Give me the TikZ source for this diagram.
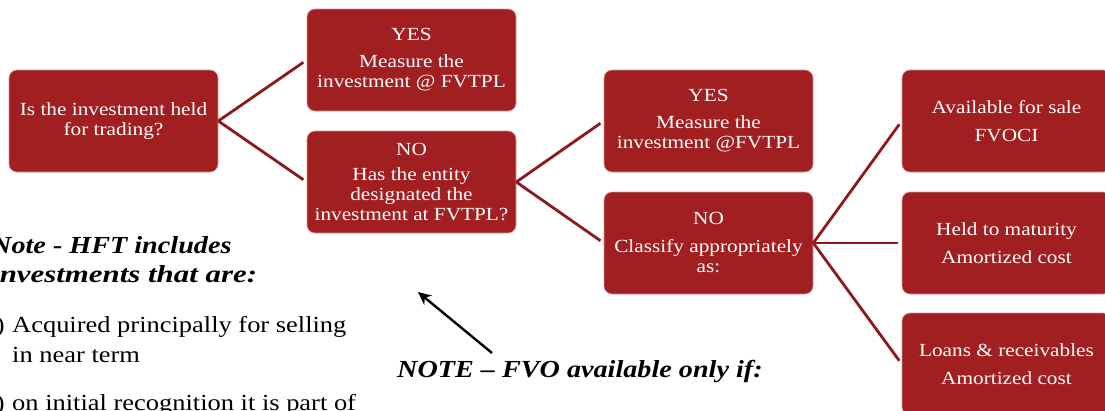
\documentclass[tikz,border=0pt]{standalone}
\usepackage{fontspec}
\setmainfont{Liberation Serif}[FakeStretch=1.15]
\usetikzlibrary{arrows.meta}
\definecolor{boxred}{RGB}{161,30,33}
\definecolor{boxedge}{RGB}{214,150,150}
\definecolor{linkred}{RGB}{140,26,27}
\begin{document}
\begin{tikzpicture}[x=1pt,y=-1pt,
  decision/.style={draw=boxedge, line width=0.6pt, fill=boxred, text=white,
    rounded corners=8pt, minimum width=209pt, minimum height=102pt,
    inner sep=2pt, align=center, font=\fontsize{18.5}{20}\selectfont},
  link/.style={draw=linkred, line width=2.8pt, shorten >=4pt},
  notehead/.style={font=\fontsize{24.5}{29}\selectfont\bfseries\itshape, align=left, inner sep=0pt},
  notebody/.style={font=\fontsize{23}{30}\selectfont, align=left, inner sep=0pt}]
\useasboundingbox (0,0) rectangle (1105,410);

% decision tree boxes
\node[decision] (hft) at (113.5,121) {Is the investment held\\for trading?};
\node[decision] (yes1) at (411.5,60) {YES\\[7pt]Measure the\\investment @ FVTPL};
\node[decision] (no1) at (411.5,182) {NO\\[5pt]Has the entity\\designated the\\investment at FVTPL?};
\node[decision] (yes2) at (708.5,121) {YES\\[7pt]Measure the\\investment @FVTPL};
\node[decision] (no2) at (708.5,243) {NO\\[8pt]Classify appropriately\\as:};
\node[decision] (afs) at (1006.5,121) {Available for sale\\[8pt]FVOCI};
\node[decision] (htm) at (1006.5,243) {Held to maturity\\[8pt]Amortized cost};
\node[decision] (lr) at (1006.5,364) {Loans \& receivables\\[8pt]Amortized cost};

% branches
\draw[link] (hft.east) -- (yes1.west);
\draw[link] (hft.east) -- (no1.west);
\draw[link] (no1.east) -- (yes2.west);
\draw[link] (no1.east) -- (no2.west);
\draw[link] (no2.east) -- (afs.west);
\draw[link] (no2.east) -- (htm.west);
\draw[link] (no2.east) -- (lr.west);

% notes (multi-line nodes: base is the last line's baseline)
\node[notehead, anchor=base west] (hftnote) at (-9,282)
  {Note - HFT includes\\{\addfontfeature{FakeStretch=1.26}investments that are:}};
\node[notebody, anchor=base east] (itema) at (5,332) {a)};
\node[notebody, anchor=base west] (itematext) at (12,362) {Acquired principally for selling\\in near term};
\node[notebody, anchor=base east] (itemb) at (5,410) {b)};
\node[notebody, anchor=base west] (itembtext) at (12,410) {on initial recognition it is part of};

\node[notehead, anchor=base west] (fvo) at (397,377) {NOTE – FVO available only if:};
\coordinate (fvotail) at (492,353);
\coordinate (fvotip) at (418,292);
\draw[line width=2.4pt, -{Stealth[length=13pt,width=12pt]}] (fvotail) -- (fvotip);
\end{tikzpicture}
\end{document}
